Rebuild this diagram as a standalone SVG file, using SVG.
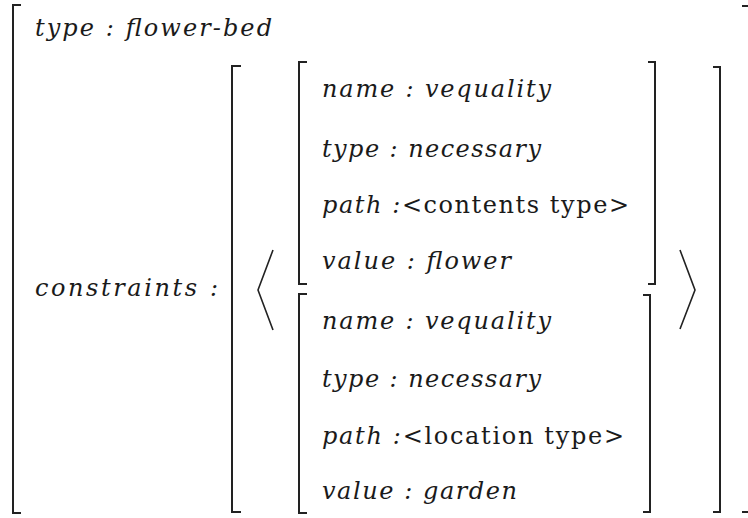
<svg xmlns="http://www.w3.org/2000/svg" width="748" height="518" viewBox="0 0 748 518">
<style>
  .br { fill: none; stroke: #222; stroke-width: 2; }
  .ang { fill: none; stroke: #222; stroke-width: 1.6; stroke-linejoin: miter; }
  .t { font-family: 'DejaVu Serif', serif; font-size: 24px; font-style: italic; fill: #1a1a1a; }
  .rm { font-style: normal; }
</style>
<rect width="748" height="518" fill="#fff"/>
<g id="outer">
  <path class="br" d="M21,5 H13 V513 H21"/>
  <path class="br" d="M742,6 H749 V512 H742"/>
  <text class="t" x="35" y="36" textLength="237">type : flower-bed</text>
  <text class="t" x="35" y="296" textLength="183">constraints :</text>
</g>
<g id="constraints">
  <path class="br" d="M241,66 H232 V512 H241"/>
  <path class="br" d="M713,67 H720 V512 H713"/>
  <path class="ang" d="M273,250 L258,290 L273,330"/>
  <path class="ang" d="M680,250 L695,290 L680,329"/>
</g>
<g id="constraint1">
  <path class="br" d="M307,62 H299 V284 H307"/>
  <path class="br" d="M648,62 H655 V284 H648"/>
  <text class="t" x="322" y="97" textLength="229">name : vequality</text>
  <text class="t" x="322" y="157" textLength="219">type : necessary</text>
  <text class="t" x="322" y="213" textLength="307">path :<tspan class="rm">&lt;contents type&gt;</tspan></text>
  <text class="t" x="322" y="269" textLength="189">value : flower</text>
</g>
<g id="constraint2">
  <path class="br" d="M307,294 H299 V513 H307"/>
  <path class="br" d="M643,295 H650 V512 H643"/>
  <text class="t" x="322" y="329" textLength="229">name : vequality</text>
  <text class="t" x="322" y="387" textLength="219">type : necessary</text>
  <text class="t" x="322" y="444" textLength="302">path :<tspan class="rm">&lt;location type&gt;</tspan></text>
  <text class="t" x="322" y="499" textLength="195">value : garden</text>
</g>
</svg>
